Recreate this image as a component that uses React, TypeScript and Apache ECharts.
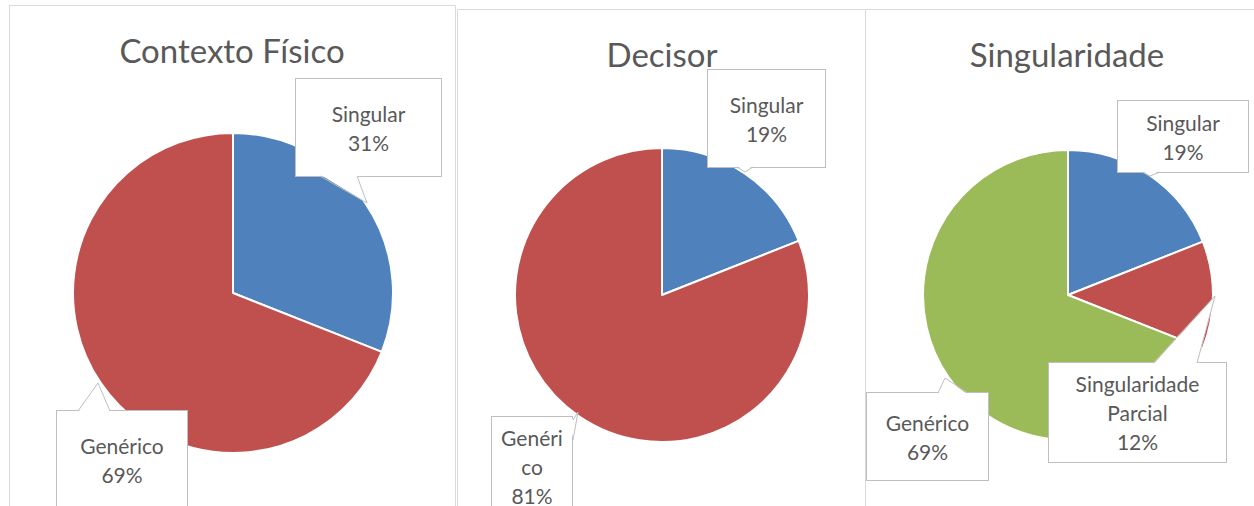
import React, { useEffect, useRef } from "react";
import * as echarts from "echarts";

// ---- data ----
const chartTitles = ["Contexto Físico", "Decisor", "Singularidade"];
const contextoCategories = ["Singular", "Genérico"];
const contextoValues = [31, 69];
const decisorCategories = ["Singular", "Genérico"];
const decisorValues = [19, 81];
const singularidadeCategories = ["Singular", "Singularidade Parcial", "Genérico"];
const singularidadeValues = [19, 12, 69];

// ---- styles / layout ----
const BLUE = "#4F81BD";
const RED = "#C0504D";
const GREEN = "#9BBB59";
const TEXT = "#595959";
const BORDER = "#BFBFBF";
const FONT = "Lato, 'Noto Sans', sans-serif";
const LH = 29;

type Box = {
  cx: number; cy: number; w: number; h: number;
  p1: number[]; tip: number[]; p2: number[];
  breakAt?: number; wordWrap?: boolean;
};

const panels = [
  {
    categories: contextoCategories,
    values: contextoValues,
    colors: [BLUE, RED],
    center: [233, 293],
    radius: 160,
    title: [232, 50],
    frame: [9.5, 5.5, 446, 520],
    boxes: [
      { cx: 368.5, cy: 127.5, w: 147, h: 97, p1: [320, 176], tip: [367, 203], p2: [357, 176] },
      { cx: 122, cy: 460, w: 132, h: 98, p1: [78, 411], tip: [98, 383], p2: [110, 411] },
    ] as Box[],
  },
  {
    categories: decisorCategories,
    values: decisorValues,
    colors: [BLUE, RED],
    center: [662, 295],
    radius: 147,
    title: [662, 54],
    frame: [457.5, 9.5, 408, 520],
    boxes: [
      { cx: 766.5, cy: 118.5, w: 119, h: 97, p1: [737, 167], tip: [745, 172], p2: [753, 167] },
      { cx: 532, cy: 466, w: 82, h: 98, p1: [573, 440], tip: [578, 412], p2: [573, 420], breakAt: 6 },
    ] as Box[],
  },
  {
    categories: singularidadeCategories,
    values: singularidadeValues,
    colors: [BLUE, RED, GREEN],
    center: [1068, 295],
    radius: 145,
    title: [1067, 54],
    frame: [865.5, 9.5, 420, 520],
    boxes: [
      { cx: 1183, cy: 136.5, w: 132, h: 71, p1: [1142, 172], tip: [1150, 176], p2: [1160, 172] },
      { cx: 1137.5, cy: 412.5, w: 179, h: 99, p1: [1153, 363], tip: [1215, 296], p2: [1197, 363], wordWrap: true },
      { cx: 927.5, cy: 436.5, w: 123, h: 87, p1: [938, 393], tip: [945, 378], p2: [968, 393] },
    ] as Box[],
  },
];

function labelText(name: string, percent: number, box: Box) {
  let n = name;
  if (box.breakAt) n = name.slice(0, box.breakAt) + "\n" + name.slice(box.breakAt);
  if (box.wordWrap) n = name.replace(/ /g, "\n");
  return n + "\n" + Math.round(percent) + "%";
}

function inward(pt: number[], b: Box, d: number) {
  const dx = pt[0] - b.cx;
  const dy = pt[1] - b.cy;
  if (Math.abs(dy) / (b.h / 2) > Math.abs(dx) / (b.w / 2)) {
    return [pt[0], pt[1] - Math.sign(dy) * d];
  }
  return [pt[0] - Math.sign(dx) * d, pt[1]];
}

export default function App() {
  const ref = useRef<HTMLDivElement>(null);
  useEffect(() => {
    if (!ref.current) return;
    const chart = echarts.init(ref.current, undefined, { renderer: "svg" });

    const graphics: any[] = [];
    panels.forEach((p, i) => {
      graphics.push({
        type: "rect",
        z: -10,
        shape: { x: p.frame[0], y: p.frame[1], width: p.frame[2], height: p.frame[3] },
        style: { fill: "#fff", stroke: "#D9D9D9", lineWidth: 1 },
      });
      graphics.push({
        type: "text",
        z: 5,
        x: p.title[0],
        y: p.title[1],
        style: {
          text: chartTitles[i],
          fill: TEXT,
          font: `33px ${FONT}`,
          align: "center",
          verticalAlign: "middle",
        },
      });
      // callout pointers
      p.boxes.forEach((b) => {
        graphics.push({
          type: "polygon",
          z: 20,
          shape: { points: [inward(b.p1, b, 1.5), b.tip, inward(b.p2, b, 1.5)] },
          style: { fill: "#fff", stroke: "none" },
        });
        graphics.push({
          type: "polyline",
          z: 21,
          shape: { points: [b.p1, b.tip, b.p2] },
          style: { fill: "none", stroke: BORDER, lineWidth: 1 },
        });
      });
    });

    const series = panels.map((p) => ({
      type: "pie",
      center: p.center,
      radius: p.radius,
      startAngle: 90,
      clockwise: true,
      avoidLabelOverlap: false,
      itemStyle: { borderColor: "#fff", borderWidth: 2 },
      labelLine: { show: false },
      emphasis: { disabled: true },
      labelLayout: (params: any) => {
        const b = p.boxes[params.dataIndex];
        return { x: b.cx, y: b.cy, align: "center", verticalAlign: "middle" };
      },
      data: p.categories.map((c, k) => {
        const b = p.boxes[k];
        const nLines = labelText(c, 0, b).split("\n").length;
        const pv = (b.h - nLines * LH) / 2;
        return {
          name: c,
          value: p.values[k],
          itemStyle: { color: p.colors[k] },
          label: {
            show: true,
            position: "outside",
            formatter: (prm: any) => labelText(prm.name, prm.percent, b),
            color: TEXT,
            fontFamily: FONT,
            fontSize: 21,
            lineHeight: LH,
            align: "center",
            width: b.w - 2,
            padding: [pv, 0, pv, 0],
            backgroundColor: "#fff",
            borderColor: BORDER,
            borderWidth: 1,
          },
        };
      }),
    }));

    chart.setOption({
      animation: false,
      backgroundColor: "#fff",
      graphic: graphics,
      series,
    });
    return () => chart.dispose();
  }, []);
  return (
    <div
      ref={ref}
      style={{ position: "fixed", left: 0, top: 0, width: 1254, height: 506 }}
    />
  );
}
